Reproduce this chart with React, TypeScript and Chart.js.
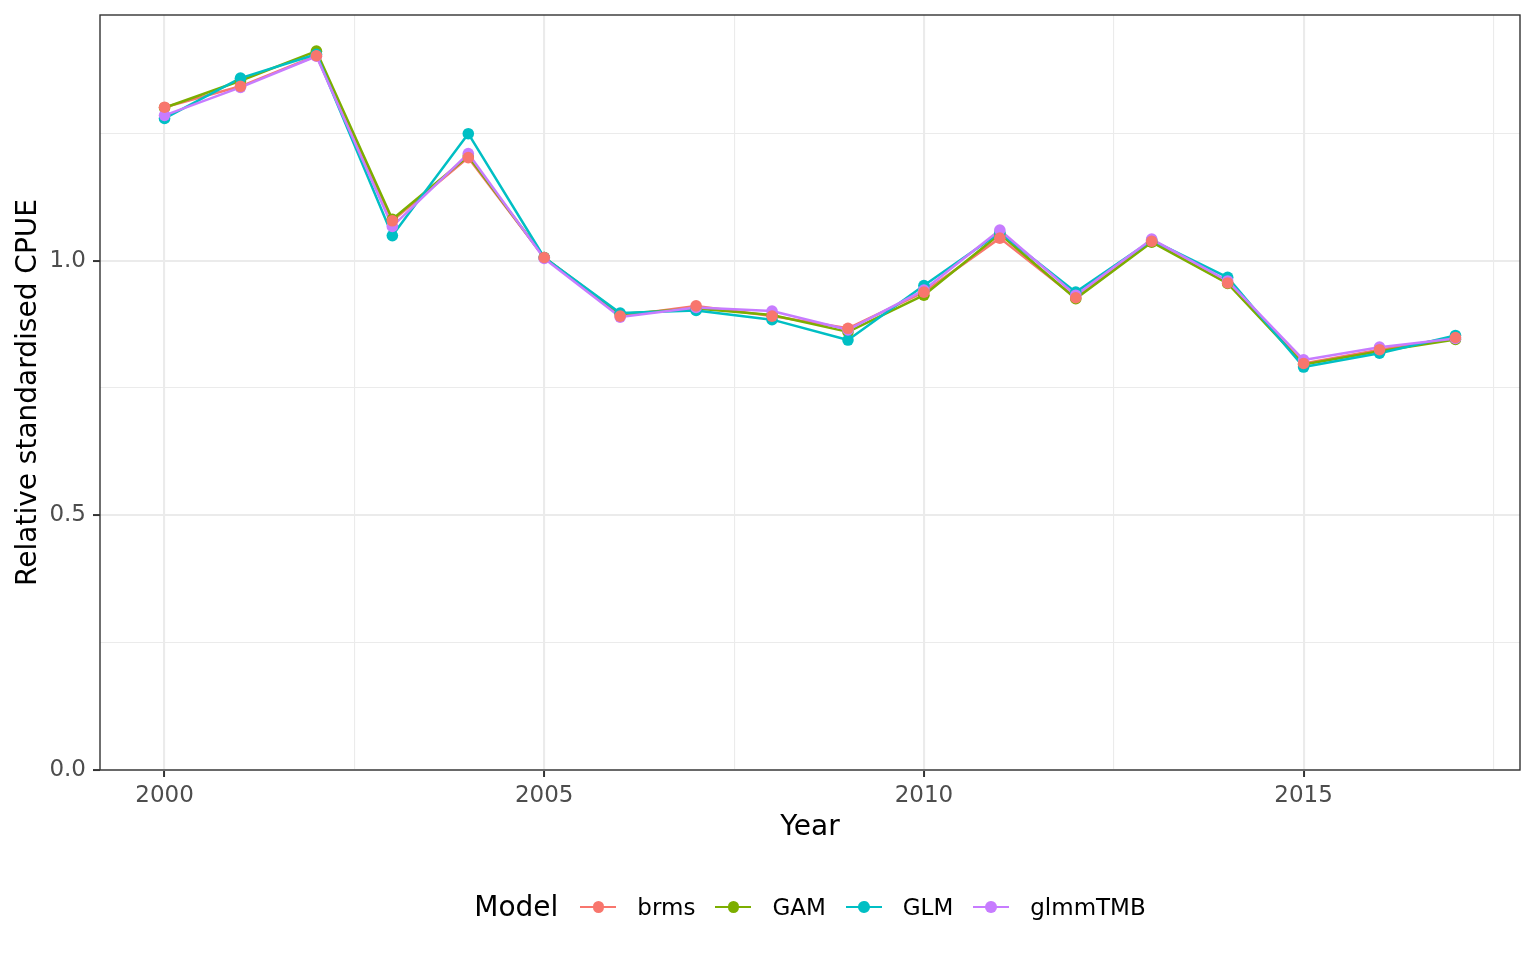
import React, { useEffect, useRef } from "react";
import { Chart, registerables } from "chart.js";

Chart.register(...registerables);

const years = [2000, 2001, 2002, 2003, 2004, 2005, 2006, 2007, 2008, 2009, 2010, 2011, 2012, 2013, 2014, 2015, 2016, 2017];

const brms = [1.301, 1.342, 1.402, 1.078, 1.202, 1.006, 0.891, 0.911, 0.891, 0.867, 0.938, 1.044, 0.927, 1.038, 0.956, 0.798, 0.825, 0.849];
const gam = [1.300, 1.353, 1.411, 1.081, 1.205, 1.006, 0.895, 0.906, 0.893, 0.860, 0.932, 1.052, 0.925, 1.036, 0.955, 0.796, 0.822, 0.845];
const glm = [1.279, 1.358, 1.405, 1.049, 1.249, 1.006, 0.897, 0.902, 0.884, 0.844, 0.951, 1.055, 0.938, 1.040, 0.967, 0.791, 0.818, 0.853];
const glmmTMB = [1.285, 1.340, 1.401, 1.067, 1.210, 1.004, 0.889, 0.908, 0.901, 0.864, 0.942, 1.060, 0.932, 1.042, 0.960, 0.805, 0.830, 0.847];

const modelNames = ["brms", "GAM", "GLM", "glmmTMB"];
const modelColors = ["#F8766D", "#7CAE00", "#00BFC4", "#C77CFF"];
const modelValues = [brms, gam, glm, glmmTMB];

const xTicks = [2000, 2002.5, 2005, 2007.5, 2010, 2012.5, 2015, 2017.5];
const xMajor = [2000, 2005, 2010, 2015];
const yTicks = [0, 0.25, 0.5, 0.75, 1.0, 1.25];
const yMajor = [0, 0.5, 1.0];

const FONT = "'DejaVu Sans', sans-serif";
const POINT_R = 5.8;
const LINE_W = 2.5;

// draw order: lines first (glmmTMB on top of lines), points on top (brms topmost)
const lineOrder = [7, 6, 5, 4];
const pointOrder = [0, 3, 2, 1];

const isMajor = (v: number, majors: number[]) => majors.some((m) => Math.abs(m - v) < 1e-6);

export default function App() {
  const ref = useRef<HTMLCanvasElement | null>(null);

  useEffect(() => {
    document.body.style.margin = "0";
    const canvas = ref.current;
    if (!canvas) return;

    const datasets: any[] = [];
    modelNames.forEach((name, i) => {
      const pts = years.map((yr, j) => ({ x: yr, y: modelValues[i][j] }));
      datasets.push({
        label: name + " line",
        data: pts,
        borderColor: modelColors[i],
        backgroundColor: modelColors[i],
        borderWidth: LINE_W,
        borderJoinStyle: "round",
        pointRadius: 0,
        pointHoverRadius: 0,
        fill: false,
        tension: 0,
        order: lineOrder[i],
      });
      datasets.push({
        label: name,
        data: pts,
        showLine: false,
        borderColor: modelColors[i],
        backgroundColor: modelColors[i],
        pointBackgroundColor: modelColors[i],
        pointBorderColor: modelColors[i],
        pointBorderWidth: 0,
        pointRadius: POINT_R,
        pointHoverRadius: POINT_R,
        order: pointOrder[i],
      });
    });

    const borderPlugin = {
      id: "panelBorder",
      afterDraw(chart: any) {
        const { ctx, chartArea } = chart;
        ctx.save();
        ctx.strokeStyle = "#333333";
        ctx.lineWidth = 1.4;
        ctx.strokeRect(chartArea.left, chartArea.top, chartArea.right - chartArea.left, chartArea.bottom - chartArea.top);
        ctx.restore();
      },
    };

    const chart = new Chart(canvas, {
      type: "line",
      data: { datasets },
      options: {
        animation: false,
        responsive: false,
        maintainAspectRatio: false,
        layout: { padding: { top: 15, right: 16, left: 0, bottom: 0 } },
        plugins: {
          legend: { display: false },
          tooltip: { enabled: false },
        },
        scales: {
          x: {
            type: "linear",
            min: 1999.15,
            max: 2017.85,
            afterFit: (scale: any) => {
              scale.height = 190;
              scale.paddingLeft = 0;
              scale.paddingRight = 0;
            },
            afterBuildTicks: (scale: any) => {
              scale.ticks = xTicks.map((v) => ({ value: v }));
            },
            ticks: {
              autoSkip: false,
              maxRotation: 0,
              padding: 5,
              color: "#4D4D4D",
              font: { family: FONT, size: 23 },
              callback: (v: any) => (isMajor(Number(v), xMajor) ? String(v) : ""),
            },
            grid: {
              color: "#EBEBEB",
              lineWidth: (ctx: any) => (ctx.tick && isMajor(ctx.tick.value, xMajor) ? 2.1 : 1.1),
              tickColor: (ctx: any) => (ctx.tick && isMajor(ctx.tick.value, xMajor) ? "#333333" : "rgba(0,0,0,0)"),
              tickWidth: 2,
              tickLength: 7,
              drawTicks: true,
            },
            border: { display: false },
            title: {
              display: true,
              text: "Year",
              color: "#000000",
              font: { family: FONT, size: 28 },
              padding: { top: 0, bottom: 115 },
            },
          },
          y: {
            type: "linear",
            min: 0,
            max: 1.482,
            afterFit: (scale: any) => {
              scale.width = 100;
              scale.paddingTop = 0;
              scale.paddingBottom = 0;
            },
            afterBuildTicks: (scale: any) => {
              scale.ticks = yTicks.map((v) => ({ value: v }));
            },
            ticks: {
              autoSkip: false,
              padding: 7,
              color: "#4D4D4D",
              font: { family: FONT, size: 23 },
              callback: (v: any) => (isMajor(Number(v), yMajor) ? Number(v).toFixed(1) : ""),
            },
            grid: {
              color: "#EBEBEB",
              lineWidth: (ctx: any) => (ctx.tick && isMajor(ctx.tick.value, yMajor) ? 2.1 : 1.1),
              tickColor: (ctx: any) => (ctx.tick && isMajor(ctx.tick.value, yMajor) ? "#333333" : "rgba(0,0,0,0)"),
              tickWidth: 2,
              tickLength: 7,
              drawTicks: true,
            },
            border: { display: false },
            title: {
              display: true,
              text: "Relative standardised CPUE",
              color: "#000000",
              font: { family: FONT, size: 28 },
              padding: { top: 12, bottom: 0 },
            },
          },
        },
      } as any,
      plugins: [borderPlugin],
    });

    return () => chart.destroy();
  }, []);

  return (
    <div style={{ position: "absolute", left: 0, top: 0, width: 1536, height: 960, background: "#ffffff", fontFamily: FONT }}>
      <canvas ref={ref} width={1536} height={960} style={{ width: 1536, height: 960, display: "block" }} />
      <div
        style={{
          position: "absolute",
          left: 100,
          width: 1420,
          top: 887,
          height: 40,
          display: "flex",
          alignItems: "center",
          justifyContent: "center",
        }}
      >
        <span style={{ fontSize: 28, color: "#000", marginRight: 22, lineHeight: "40px" }}>Model</span>
        {modelNames.map((name, i) => (
          <div key={name} style={{ display: "flex", alignItems: "center", marginRight: i < modelNames.length - 1 ? 20 : 0 }}>
            <div style={{ position: "relative", width: 36, height: 40, marginRight: 21 }}>
              <div style={{ position: "absolute", left: 0, top: 20 - LINE_W / 2, width: 36, height: LINE_W, background: modelColors[i] }} />
              <div
                style={{
                  position: "absolute",
                  left: 18 - POINT_R,
                  top: 20 - POINT_R,
                  width: POINT_R * 2,
                  height: POINT_R * 2,
                  borderRadius: "50%",
                  background: modelColors[i],
                }}
              />
            </div>
            <span style={{ fontSize: 23, color: "#000", lineHeight: "40px" }}>{name}</span>
          </div>
        ))}
      </div>
    </div>
  );
}
